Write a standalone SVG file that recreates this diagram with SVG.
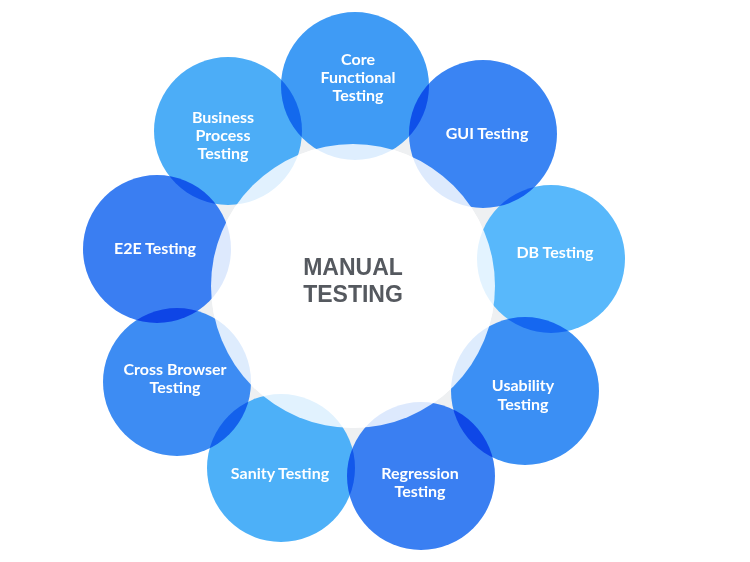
<svg xmlns="http://www.w3.org/2000/svg" width="750" height="562" viewBox="0 0 750 562">
<style>
.c{mix-blend-mode:multiply}
.t{font-family:Lato,"Open Sans","Liberation Sans",sans-serif;font-weight:700;font-size:16px;fill:#ffffff;text-anchor:middle}
.m{font-family:"Liberation Sans",Arial,sans-serif;font-weight:700;font-size:23px;fill:#55595f;text-anchor:middle}
</style>
<rect width="750" height="562" fill="#ffffff"/>
<circle cx="353" cy="286" r="154" fill="none" stroke="#eef0f2" stroke-width="24"/>
<g id="nodes" style="isolation:isolate">
<g id="core"><circle class="c" cx="355" cy="86" r="74" fill="#3f9bf5"/><text class="t" x="358" y="65">Core</text><text class="t" x="358" y="83">Functional</text><text class="t" x="358" y="101">Testing</text></g>
<g id="gui"><circle class="c" cx="483" cy="134" r="74" fill="#3a84f3"/><text class="t" x="487" y="139">GUI Testing</text></g>
<g id="db"><circle class="c" cx="551" cy="259" r="74" fill="#58b8fb"/><text class="t" x="555" y="258">DB Testing</text></g>
<g id="usability"><circle class="c" cx="525" cy="391" r="74" fill="#3b8ff4"/><text class="t" x="523" y="391">Usability</text><text class="t" x="523" y="410">Testing</text></g>
<g id="regression"><circle class="c" cx="421" cy="476" r="74" fill="#3a7ff2"/><text class="t" x="420" y="479">Regression</text><text class="t" x="420" y="497">Testing</text></g>
<g id="sanity"><circle class="c" cx="281" cy="468" r="74" fill="#4db0f8"/><text class="t" x="280" y="479">Sanity Testing</text></g>
<g id="crossbrowser"><circle class="c" cx="177" cy="382" r="74" fill="#3d8cf3"/><text class="t" x="175" y="375">Cross Browser</text><text class="t" x="175" y="393">Testing</text></g>
<g id="e2e"><circle class="c" cx="157" cy="249" r="74" fill="#3a7ef2"/><text class="t" x="155" y="254">E2E Testing</text></g>
<g id="business"><circle class="c" cx="228" cy="131" r="74" fill="#4cadf7"/><text class="t" x="223" y="123">Business</text><text class="t" x="223" y="141">Process</text><text class="t" x="223" y="159">Testing</text></g>
</g>
<g id="center">
<circle cx="353" cy="286" r="142" fill="#ffffff" fill-opacity="0.83"/>
<text class="m" x="353" y="275">MANUAL</text>
<text class="m" x="353" y="302">TESTING</text>
</g>
<g id="connectors"/>
</svg>
